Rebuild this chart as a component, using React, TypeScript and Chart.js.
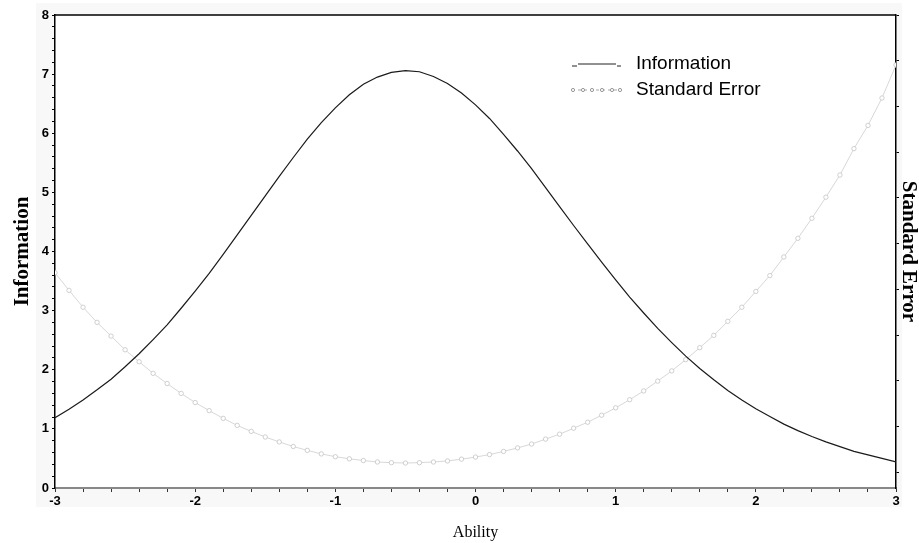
import React, { useEffect, useRef } from "react";
import { Chart, registerables } from "chart.js";

Chart.register(...registerables);

const abilities = [
  -3.0, -2.9, -2.8, -2.7, -2.6, -2.5, -2.4, -2.3, -2.2, -2.1,
  -2.0, -1.9, -1.8, -1.7, -1.6, -1.5, -1.4, -1.3, -1.2, -1.1,
  -1.0, -0.9, -0.8, -0.7, -0.6, -0.5, -0.4, -0.3, -0.2, -0.1,
  0.0, 0.1, 0.2, 0.3, 0.4, 0.5, 0.6, 0.7, 0.8, 0.9,
  1.0, 1.1, 1.2, 1.3, 1.4, 1.5, 1.6, 1.7, 1.8, 1.9,
  2.0, 2.1, 2.2, 2.3, 2.4, 2.5, 2.6, 2.7, 2.8, 2.9, 3.0,
];

const information = [
  1.19, 1.33, 1.49, 1.66, 1.84, 2.05, 2.27, 2.51, 2.76, 3.04,
  3.33, 3.63, 3.95, 4.28, 4.61, 4.94, 5.27, 5.59, 5.9, 6.18,
  6.43, 6.65, 6.83, 6.95, 7.03, 7.06, 7.04, 6.96, 6.84, 6.68,
  6.48, 6.25, 5.98, 5.7, 5.4, 5.08, 4.76, 4.44, 4.13, 3.82,
  3.52, 3.23, 2.96, 2.7, 2.46, 2.23, 2.02, 1.83, 1.65, 1.49,
  1.34, 1.21, 1.08, 0.97, 0.87, 0.78, 0.7, 0.62, 0.56, 0.5, 0.44,
];

const standardError = [
  0.917, 0.867, 0.819, 0.776, 0.737, 0.698, 0.664, 0.631, 0.602, 0.574,
  0.548, 0.525, 0.503, 0.483, 0.466, 0.45, 0.436, 0.423, 0.412, 0.402,
  0.394, 0.388, 0.383, 0.379, 0.377, 0.376, 0.377, 0.379, 0.382, 0.387,
  0.393, 0.4, 0.409, 0.419, 0.43, 0.444, 0.458, 0.475, 0.492, 0.512,
  0.533, 0.556, 0.581, 0.609, 0.638, 0.67, 0.704, 0.739, 0.779, 0.819,
  0.864, 0.909, 0.962, 1.015, 1.072, 1.132, 1.195, 1.27, 1.336, 1.414, 1.508,
];

const seriesLabels = ["Information", "Standard Error"];
const axisTitles = { x: "Ability", left: "Information", right: "Standard Error" };
const abilityRange = [-3, 3];
const infoRange = [0, 8];
const seRange = [0.305, 1.65];
const seAxisTicks = [1.65, 1.52, 1.39, 1.26, 1.13, 1.0, 0.87, 0.74, 0.61, 0.48, 0.35];

const isInt = (v: number) => Math.abs(v - Math.round(v)) < 1e-6;

export default function App() {
  const ref = useRef<HTMLCanvasElement | null>(null);

  useEffect(() => {
    const canvas = ref.current;
    if (!canvas) return;

    const framePlugin = {
      id: "frame",
      beforeDraw(chart: any) {
        const { ctx, chartArea } = chart;
        ctx.save();
        ctx.fillStyle = "#f8f8f8";
        ctx.fillRect(36, 3, 866, 504);
        ctx.fillStyle = "#ffffff";
        ctx.fillRect(chartArea.left, chartArea.top, chartArea.right - chartArea.left, chartArea.bottom - chartArea.top);
        ctx.restore();
      },
      afterDraw(chart: any) {
        const { ctx, chartArea } = chart;
        ctx.save();
        ctx.strokeStyle = "#000";
        ctx.lineWidth = 1.5;
        ctx.beginPath();
        ctx.moveTo(chartArea.left, chartArea.top);
        ctx.lineTo(chartArea.right, chartArea.top);
        ctx.stroke();

        // legend
        const lx = 572;
        const tx = 636;
        const y1 = 64;
        const y2 = 90;
        ctx.font = '19px "Liberation Sans", Arial, sans-serif';
        ctx.fillStyle = "#000";
        ctx.textBaseline = "middle";
        ctx.textAlign = "left";
        ctx.fillText(seriesLabels[0], tx, y1);
        ctx.fillText(seriesLabels[1], tx, y2);

        ctx.strokeStyle = "#222";
        ctx.lineWidth = 1;
        ctx.beginPath();
        ctx.moveTo(lx, y1 + 2);
        ctx.lineTo(lx + 5, y1 + 2);
        ctx.moveTo(lx + 6, y1);
        ctx.lineTo(lx + 44, y1);
        ctx.moveTo(lx + 45, y1 + 2);
        ctx.lineTo(lx + 49, y1 + 2);
        ctx.stroke();

        ctx.strokeStyle = "#aaa";
        ctx.setLineDash([3, 3]);
        ctx.beginPath();
        ctx.moveTo(lx, y2);
        ctx.lineTo(lx + 49, y2);
        ctx.stroke();
        ctx.setLineDash([]);
        [1, 11, 20, 30, 40, 48].forEach((dx) => {
          ctx.beginPath();
          ctx.arc(lx + dx, y2, 1.6, 0, Math.PI * 2);
          ctx.fillStyle = "#fff";
          ctx.fill();
          ctx.strokeStyle = "#999";
          ctx.stroke();
        });
        ctx.restore();
      },
    };

    const tickFont = { family: '"Liberation Sans", Arial, sans-serif', size: 13, weight: "bold" as const };

    const chart = new Chart(canvas, {
      type: "line",
      data: {
        datasets: [
          {
            label: seriesLabels[0],
            data: abilities.map((a, i) => ({ x: a, y: information[i] })),
            yAxisID: "y",
            borderColor: "#1a1a1a",
            borderWidth: 1.2,
            pointRadius: 0,
            tension: 0,
            fill: false,
          },
          {
            label: seriesLabels[1],
            data: abilities.map((a, i) => ({ x: a, y: standardError[i] })),
            yAxisID: "y2",
            borderColor: "#d8d8d8",
            borderWidth: 1,
            pointRadius: 2.2,
            pointBackgroundColor: "#ffffff",
            pointBorderColor: "#c4c4c4",
            pointBorderWidth: 0.8,
            tension: 0,
            fill: false,
          },
        ],
      },
      options: {
        animation: false,
        responsive: false,
        devicePixelRatio: 1,
        layout: { padding: { top: 15, left: 0, right: 0, bottom: 0 } },
        plugins: {
          legend: { display: false },
          tooltip: { enabled: false },
        },
        scales: {
          x: {
            type: "linear",
            min: abilityRange[0],
            max: abilityRange[1],
            afterFit: (s: any) => {
              s.height = 55;
            },
            ticks: {
              stepSize: 0.2,
              autoSkip: false,
              maxRotation: 0,
              padding: 2,
              color: "#000",
              font: tickFont,
              callback: (v: any) => (isInt(Number(v)) ? String(Math.round(Number(v))) : ""),
            },
            grid: {
              drawOnChartArea: false,
              tickLength: 4,
              tickColor: "#333",
            },
            border: { color: "#888", width: 2 },
            title: {
              display: true,
              text: axisTitles.x,
              color: "#000",
              font: { family: '"Liberation Serif", "Times New Roman", serif', size: 16, lineHeight: 1.2 },
              padding: { top: 0, bottom: 1 },
            },
          },
          y: {
            type: "linear",
            position: "left",
            min: infoRange[0],
            max: infoRange[1],
            afterFit: (s: any) => {
              s.width = 55;
            },
            ticks: {
              stepSize: 0.2,
              autoSkip: false,
              padding: 3,
              color: "#000",
              font: tickFont,
              callback: (v: any) => (isInt(Number(v)) ? String(Math.round(Number(v))) : ""),
            },
            grid: {
              drawOnChartArea: false,
              tickLength: 3,
              tickColor: "#000",
            },
            border: { color: "#000", width: 1.5 },
            title: {
              display: true,
              text: axisTitles.left,
              color: "#000",
              font: { family: '"Liberation Serif", "Times New Roman", serif', size: 21, weight: "bold", lineHeight: 1.2 },
              padding: { top: 10, bottom: 0 },
            },
          },
          y2: {
            type: "linear",
            position: "right",
            min: seRange[0],
            max: seRange[1],
            afterFit: (s: any) => {
              s.width = 23;
            },
            afterBuildTicks: (s: any) => {
              s.ticks = seAxisTicks.map((v) => ({ value: v }));
            },
            ticks: { display: false },
            grid: {
              drawOnChartArea: false,
              tickLength: 3,
              tickColor: "#000",
            },
            border: { color: "#000", width: 1.5 },
            title: {
              display: true,
              text: axisTitles.right,
              color: "#000",
              font: { family: '"Liberation Serif", "Times New Roman", serif', size: 21, weight: "bold", lineHeight: 1 },
              padding: { top: 0, bottom: 0 },
            },
          },
        },
      },
      plugins: [framePlugin],
    });

    return () => chart.destroy();
  }, []);

  return (
    <div style={{ position: "absolute", left: 0, top: 0, width: 919, height: 543, background: "#fff" }}>
      <canvas ref={ref} width={919} height={543} style={{ display: "block" }} />
    </div>
  );
}
